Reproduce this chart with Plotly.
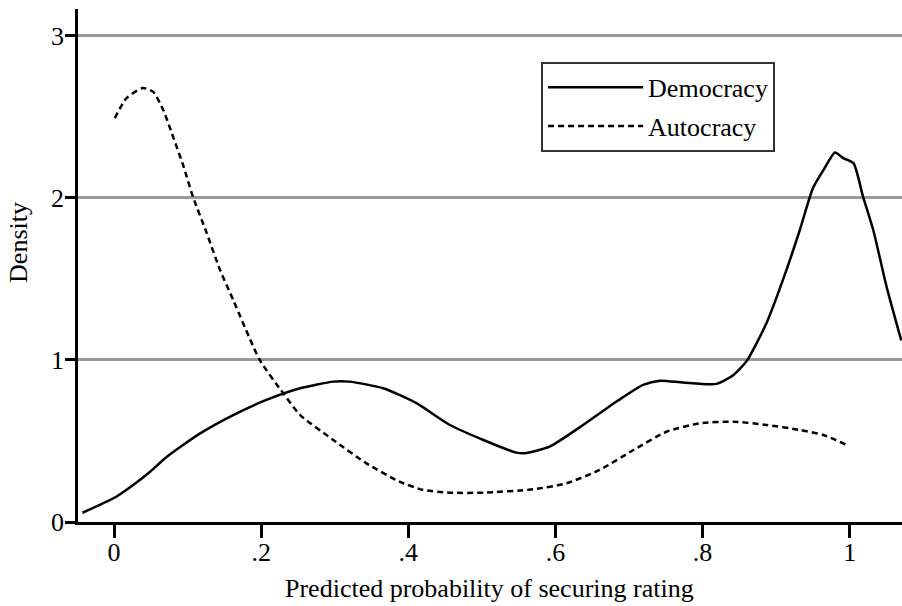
import plotly.graph_objects as go

# Democracy kernel density
dem_x = [-0.043, 0.003, 0.026, 0.049, 0.071, 0.117, 0.162, 0.207, 0.253, 0.298, 0.32, 0.366,
         0.411, 0.456, 0.502, 0.547, 0.558, 0.592, 0.638, 0.683, 0.719, 0.742, 0.774, 0.819,
         0.842, 0.86, 0.887, 0.914, 0.932, 0.950, 0.964, 0.980, 0.991, 1.005, 1.018, 1.032,
         1.050, 1.070]
dem_y = [0.057, 0.156, 0.228, 0.31, 0.40, 0.547, 0.66, 0.753, 0.825, 0.866, 0.866, 0.825,
         0.733, 0.60, 0.506, 0.428, 0.424, 0.465, 0.60, 0.743, 0.846, 0.872, 0.86, 0.852,
         0.907, 0.994, 1.23, 1.556, 1.80, 2.06, 2.17, 2.28, 2.245, 2.214, 2.008, 1.80,
         1.452, 1.12]

# Autocracy kernel density
aut_x = [0.001, 0.017, 0.039, 0.053, 0.067, 0.080, 0.094, 0.107, 0.126, 0.144, 0.162,
         0.198, 0.230, 0.253, 0.298, 0.343, 0.388, 0.42, 0.456, 0.502, 0.570, 0.615,
         0.660, 0.706, 0.751, 0.796, 0.842, 0.887, 0.932, 0.964, 0.996]
aut_y = [2.492, 2.615, 2.677, 2.655, 2.54, 2.38, 2.20, 2.01, 1.782, 1.556, 1.37,
         1.0, 0.794, 0.66, 0.506, 0.362, 0.249, 0.198, 0.181, 0.181, 0.202, 0.239,
         0.321, 0.444, 0.557, 0.609, 0.619, 0.599, 0.568, 0.537, 0.475]

x_tickvals = [0, 0.2, 0.4, 0.6, 0.8, 1]
x_ticktext = ["0", ".2", ".4", ".6", ".8", "1"]
y_tickvals = [0, 1, 2, 3]
y_ticktext = ["0", "1", "2", "3"]

FONT = "Liberation Serif, Times New Roman, serif"

fig = go.Figure()
fig.add_trace(go.Scatter(x=dem_x, y=dem_y, mode="lines", name="Democracy",
                         legendgroup="d",
                         line=dict(color="black", width=2.5, shape="spline", smoothing=0.6)))
fig.add_trace(go.Scatter(x=aut_x, y=aut_y, mode="lines", name="Autocracy",
                         legendgroup="a",
                         line=dict(color="black", width=2.5, dash="6px,4px",
                                   shape="spline", smoothing=0.6)))

fig.update_layout(
    width=902, height=606,
    margin=dict(l=78, r=0, t=9, b=84),
    paper_bgcolor="white", plot_bgcolor="white",
    font=dict(family=FONT, size=26, color="black"),
    showlegend=True,
    legend=dict(x=0.562, y=0.897, xanchor="left", yanchor="top",
                bgcolor="white", bordercolor="#333333", borderwidth=2,
                font=dict(family=FONT, size=26, color="black"),
                traceorder="grouped", tracegroupgap=2, itemwidth=95,
                entrywidth=250),
    xaxis=dict(range=[-0.049, 1.071], tickvals=x_tickvals, ticktext=x_ticktext,
               showgrid=False, zeroline=False, showline=True, linecolor="black",
               linewidth=2.5, ticks="outside", ticklen=13, tickwidth=2.5,
               tickcolor="black", tickfont=dict(family=FONT, size=26),
               ticklabelstandoff=-8),
    yaxis=dict(range=[0, 3.165], tickvals=y_tickvals, ticktext=y_ticktext,
               showgrid=True, gridcolor="#999999", gridwidth=2.5,
               zeroline=False, showline=True, linecolor="black",
               linewidth=2.5, ticks="outside", ticklen=10, tickwidth=2.5,
               tickcolor="black", tickfont=dict(family=FONT, size=26),
               ticklabelstandoff=-4),
    annotations=[
        dict(text="Density", xref="paper", yref="paper", x=-0.0716, y=0.544,
             xanchor="center", yanchor="middle", textangle=-90, showarrow=False,
             font=dict(family=FONT, size=26, color="black")),
        dict(text="Predicted probability of securing rating", xref="paper", yref="paper",
             x=0.499, y=-0.1306, xanchor="center", yanchor="middle", showarrow=False,
             font=dict(family=FONT, size=26, color="black")),
    ],
)

fig.write_html("out.html", config={"displayModeBar": False},
               post_script="document.body.style.margin='0';")
